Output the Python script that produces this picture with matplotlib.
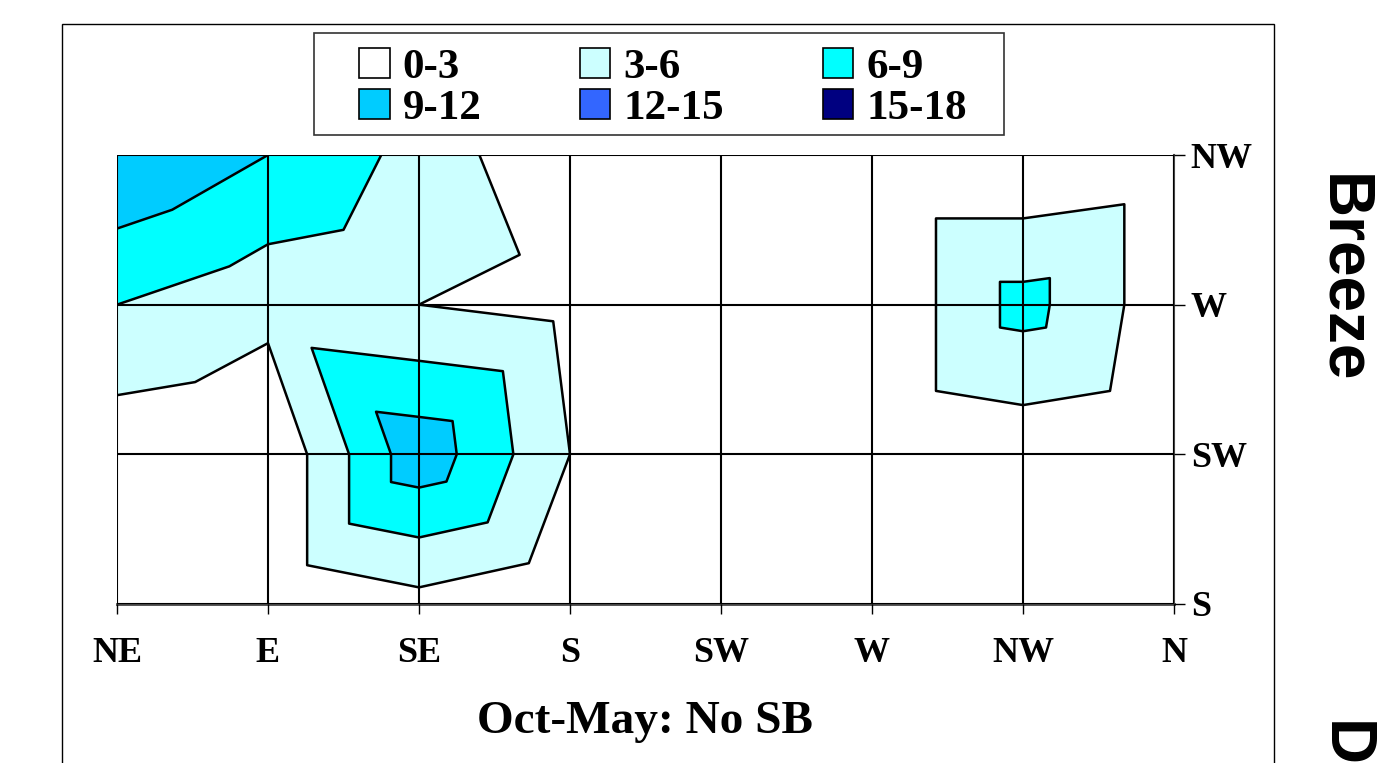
import numpy as np
import matplotlib.pyplot as plt
import matplotlib.tri as mtri
from matplotlib.patches import Patch, Rectangle

# wind directions along the axes
x_labels = ["NE", "E", "SE", "S", "SW", "W", "NW", "N"]
y_labels = ["S", "SW", "W", "NW"]

# grid values, one list per row (bottom row first)
row_s = [0.0, 0.2, 2.0, 0.0, 0.0, 0.0, 0.0, 0.0]
row_sw = [1.04, 0.2, 11.0, 3.0, 0.0, 0.0, 1.0, 0.0]
row_w = [6.0, 3.97, 3.0, 2.0, 0.0, 0.0, 7.08, 1.0]
row_nw = [11.9, 9.0, 5.0, 0.0, 0.0, 0.0, 0.0, 1.0]

levels = [0, 3, 6, 9, 12, 15, 18]
band_labels = ["0-3", "3-6", "6-9", "9-12", "12-15", "15-18"]
band_colors = ["#FFFFFF", "#CCFFFF", "#00FFFF", "#00CCFF", "#3366FF", "#000080"]

serif = "Liberation Serif"
W, H = 1396, 763

z = np.array([row_s, row_sw, row_w, row_nw])
ny, nx = z.shape
gx, gy = np.meshgrid(np.arange(nx), np.arange(ny))
zf = z.ravel()

# split each cell in two triangles along the diagonal with the larger sum (like Excel)
tris = []
for r in range(ny - 1):
    for c in range(nx - 1):
        bl = r * nx + c
        br = bl + 1
        tl = bl + nx
        tr = tl + 1
        if zf[bl] + zf[tr] >= zf[tl] + zf[br]:
            tris += [[bl, br, tr], [bl, tr, tl]]
        else:
            tris += [[bl, br, tl], [br, tr, tl]]
tri = mtri.Triangulation(gx.ravel().astype(float), gy.ravel().astype(float), np.array(tris))

fig = plt.figure(figsize=(W / 100, H / 100), dpi=100)
ax = fig.add_axes([117 / W, 1 - 604 / H, (1174 - 117) / W, (604 - 155) / H])

ax.tricontourf(tri, zf, levels=levels, colors=band_colors)
ax.tricontour(tri, zf, levels=levels[1:-1], colors="black", linewidths=1.8)

ax.set_xlim(0, nx - 1)
ax.set_ylim(0, ny - 1)
ax.set_xticks(range(nx))
ax.set_xticklabels(x_labels)
ax.set_yticks(range(ny))
ax.set_yticklabels(y_labels)
ax.yaxis.tick_right()
ax.grid(True, color="black", linewidth=1.5)
ax.set_axisbelow(False)
for lab in ax.get_xticklabels() + ax.get_yticklabels():
    lab.set_fontfamily(serif)
    lab.set_fontweight("bold")
    lab.set_fontsize(26)
ax.tick_params(axis="x", direction="out", length=7, width=1, pad=17, colors="black")
ax.tick_params(axis="y", direction="out", length=8, width=1, pad=4, colors="black")
ax.spines["left"].set_visible(False)
ax.spines["top"].set_visible(False)
ax.spines["bottom"].set_color("#444444")
ax.spines["bottom"].set_linewidth(2)
ax.spines["right"].set_color("#444444")
ax.spines["right"].set_linewidth(1.5)

fig.text(645 / W, 1 - 722 / H, "Oct-May: No SB", family=serif, weight="bold",
         fontsize=34, ha="center", va="center")

# legend, filled row by row like the original
order = [0, 3, 1, 4, 2, 5]
handles = [Patch(facecolor=band_colors[i], edgecolor="black", linewidth=1.2) for i in order]
labels = [band_labels[i] for i in order]
fig.legend(handles, labels, ncol=3, loc="center",
           bbox_to_anchor=(663 / W, 1 - 88 / H),
           prop={"family": serif, "weight": "bold", "size": 31},
           frameon=False, handlelength=0.7, handleheight=0.7, handletextpad=0.3,
           columnspacing=2.3, labelspacing=0.05, borderpad=0.2)
fig.patches.append(Rectangle((314 / W, 1 - 135 / H), (1004 - 314) / W, (135 - 33) / H,
                             transform=fig.transFigure, fill=False,
                             edgecolor="#333333", linewidth=1.2))

# chart area border
fig.patches.append(Rectangle((62 / W, -0.1), (1274 - 62) / W, 1.1 - 24 / H,
                             transform=fig.transFigure, fill=False,
                             edgecolor="black", linewidth=1))

# side titles, partly cut off at the right edge as in the original
fig.text(1342 / W, 1 - 279 / H, "Breeze", family="Liberation Sans", weight="bold",
         fontsize=46, rotation=-90, ha="center", va="center")
fig.text(1344 / W, 1 - 721 / H, "D", family="Liberation Sans", weight="bold",
         fontsize=46, rotation=-90, ha="center", va="top")

fig.savefig("out.png", dpi=100)
